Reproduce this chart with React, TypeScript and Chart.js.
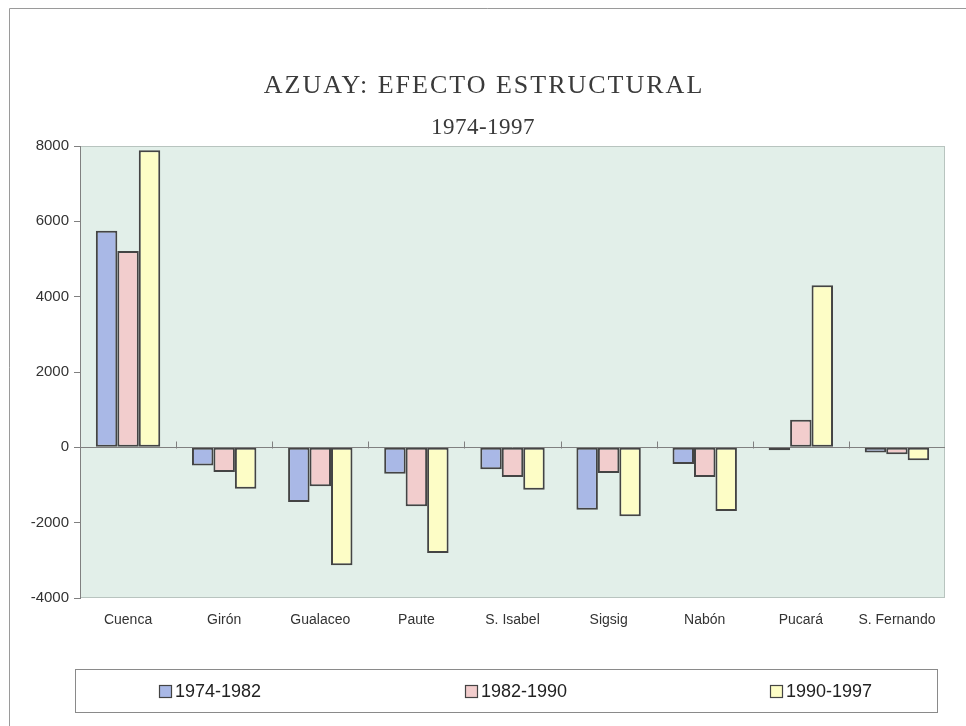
import React, { useEffect, useRef } from "react";
import { Chart, registerables } from "chart.js";

Chart.register(...registerables);

const categories = ["Cuenca", "Girón", "Gualaceo", "Paute", "S. Isabel", "Sigsig", "Nabón", "Pucará", "S. Fernando"];
const seriesLabels = ["1974-1982", "1982-1990", "1990-1997"];
const values7482 = [5750, -480, -1450, -700, -585, -1655, -440, -80, -140];
const values8290 = [5210, -655, -1030, -1565, -790, -680, -790, 735, -185];
const values9097 = [7890, -1100, -3130, -2805, -1125, -1830, -1690, 4300, -345];
const titleLines = ["AZUAY: EFECTO ESTRUCTURAL", "1974-1997"];
const yMin = -4000;
const yMax = 8000;
const yStep = 2000;

const fills = ["#a9b8e6", "#f2cdcd", "#fdfdc6"];
const edge = "#444444";

const decorPlugin = {
  id: "decor",
  beforeDraw(chart: any) {
    const { ctx, chartArea: a, width, height } = chart;
    ctx.save();
    ctx.fillStyle = "#ffffff";
    ctx.fillRect(0, 0, width, height);
    // outer frame (left & top)
    ctx.strokeStyle = "#9a9a9a";
    ctx.lineWidth = 1;
    ctx.beginPath();
    ctx.moveTo(9.5, height);
    ctx.lineTo(9.5, 8.5);
    ctx.lineTo(width, 8.5);
    ctx.stroke();
    // plot background
    ctx.fillStyle = "#e2efe9";
    ctx.fillRect(a.left, a.top, a.right - a.left, a.bottom - a.top);
    ctx.strokeStyle = "#b8c4bf";
    ctx.strokeRect(a.left + 0.5, a.top + 0.5, a.right - a.left - 1, a.bottom - a.top - 1);
    // title
    ctx.fillStyle = "#3a3a3a";
    ctx.textAlign = "center";
    ctx.textBaseline = "middle";
    ctx.font = "26px 'Liberation Serif', serif";
    (ctx as any).letterSpacing = "2px";
    ctx.fillText(titleLines[0], width / 2 + 1, 86);
    (ctx as any).letterSpacing = "0.5px";
    ctx.font = "23px 'Liberation Serif', serif";
    ctx.fillText(titleLines[1], width / 2, 128);
    (ctx as any).letterSpacing = "0px";
    ctx.restore();
  },
  beforeDatasetsDraw(chart: any) {
    const { ctx, chartArea: a, scales } = chart;
    const y0 = Math.round(scales.y.getPixelForValue(0)) + 0.5;
    ctx.save();
    ctx.strokeStyle = "#808080";
    ctx.lineWidth = 1;
    ctx.beginPath();
    ctx.moveTo(a.left, y0);
    ctx.lineTo(a.right, y0);
    const n = categories.length;
    for (let i = 0; i < n - 1; i++) {
      const x = Math.round((scales.x.getPixelForValue(i) + scales.x.getPixelForValue(i + 1)) / 2) + 0.5;
      ctx.moveTo(x, y0 - 6);
      ctx.lineTo(x, y0 + 1);
    }
    ctx.stroke();
    ctx.restore();
  },
  afterDraw(chart: any) {
    const { ctx } = chart;
    ctx.save();
    // legend box
    ctx.strokeStyle = "#8a8a8a";
    ctx.lineWidth = 1;
    ctx.strokeRect(75.5, 669.5, 862, 43);
    const xs = [159, 465, 770];
    ctx.font = "18px 'Liberation Sans', Arial, sans-serif";
    ctx.textBaseline = "middle";
    ctx.textAlign = "left";
    chart.data.datasets.forEach((ds: any, i: number) => {
      const x = xs[i];
      const yc = 691;
      ctx.fillStyle = ds.backgroundColor;
      ctx.fillRect(x, yc - 6, 13, 13);
      ctx.strokeStyle = edge;
      ctx.lineWidth = 1.2;
      ctx.strokeRect(x + 0.5, yc - 5.5, 12, 12);
      ctx.fillStyle = "#222222";
      ctx.fillText(ds.label, x + 16, yc + 1);
    });
    ctx.restore();
  },
};

export default function App() {
  const ref = useRef<HTMLCanvasElement | null>(null);
  useEffect(() => {
    if (!ref.current) return;
    const chart = new Chart(ref.current, {
      type: "bar",
      data: {
        labels: categories,
        datasets: [values7482, values8290, values9097].map((v, i) => ({
          label: seriesLabels[i],
          data: v,
          backgroundColor: fills[i],
          borderColor: edge,
          borderWidth: 2,
          borderSkipped: false,
          categoryPercentage: 0.67,
          barPercentage: 1.0,
        })),
      },
      options: {
        animation: false,
        responsive: false,
        maintainAspectRatio: false,
        layout: { padding: { top: 146, left: 0, right: 21, bottom: 98 } },
        plugins: {
          legend: { display: false },
          title: { display: false },
          tooltip: { enabled: false },
        },
        scales: {
          x: {
            grid: { display: false },
            border: { display: false },
            ticks: {
              color: "#333333",
              font: { family: "'Liberation Sans', Arial, sans-serif", size: 14 },
              padding: 6,
              maxRotation: 0,
              autoSkip: false,
            },
            afterFit(scale: any) {
              scale.height = 30;
            },
          },
          y: {
            min: yMin,
            max: yMax,
            grid: { drawOnChartArea: false, drawTicks: true, tickLength: 6, color: "#808080" },
            border: { display: true, color: "#808080" },
            ticks: {
              stepSize: yStep,
              color: "#333333",
              font: { family: "'Liberation Sans', Arial, sans-serif", size: 15 },
              padding: 5,
              callback: (v: any) => String(v),
            },
            afterFit(scale: any) {
              scale.width = 80;
            },
          },
        },
      },
      plugins: [decorPlugin],
    });
    return () => chart.destroy();
  }, []);
  return (
    <div style={{ position: "fixed", left: 0, top: 0, width: 966, height: 726 }}>
      <canvas ref={ref} width={966} height={726} style={{ width: 966, height: 726, display: "block" }} />
    </div>
  );
}
